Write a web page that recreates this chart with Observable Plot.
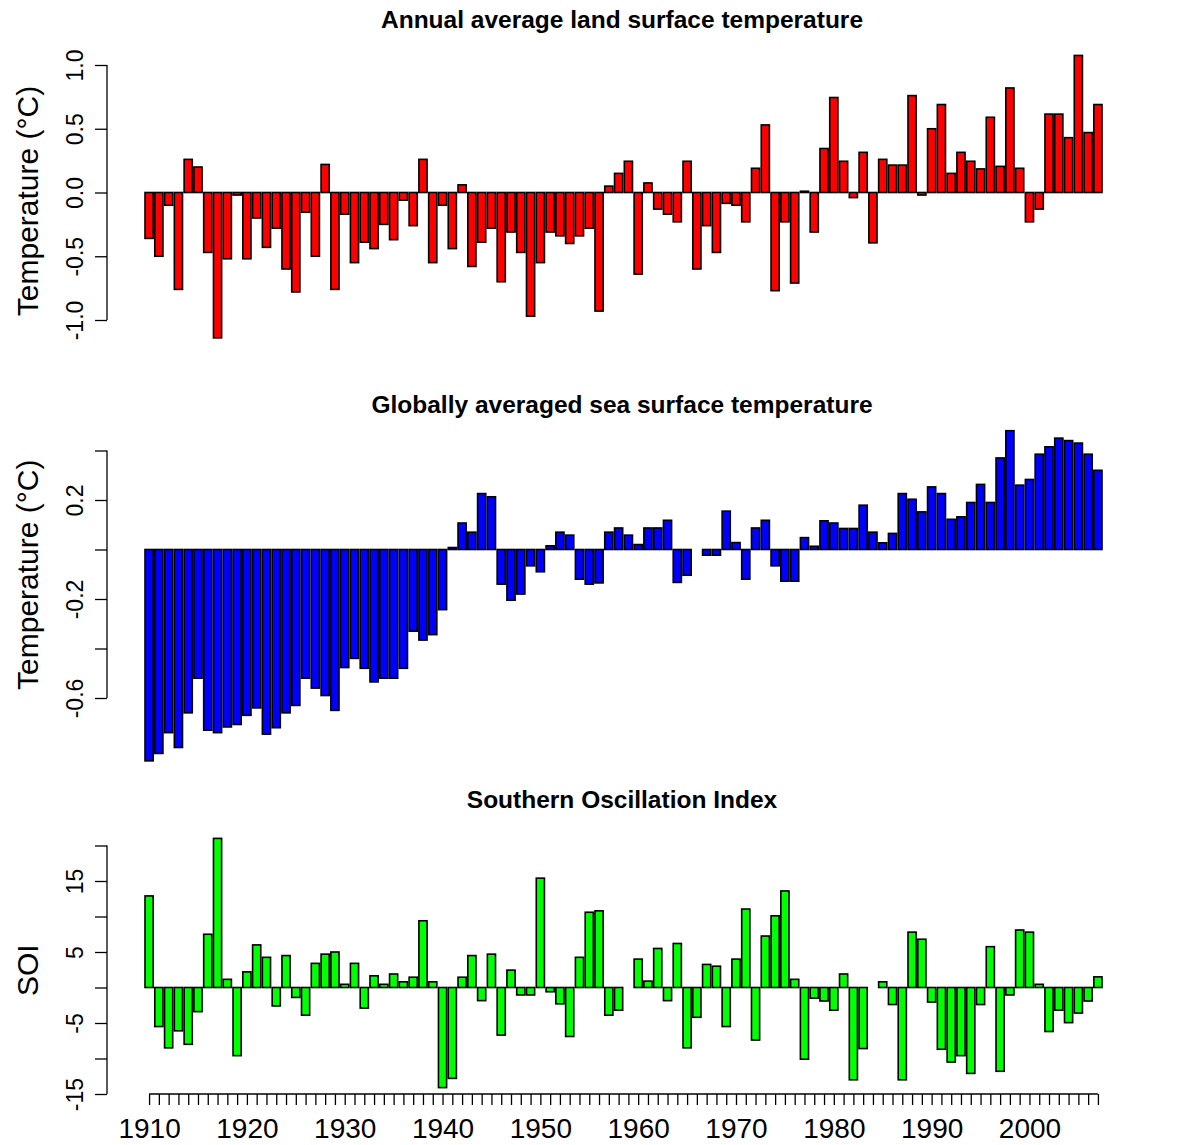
<!DOCTYPE html>
<html><head><meta charset="utf-8">
<script src="https://cdn.jsdelivr.net/npm/d3@7"></script>
<script src="https://cdn.jsdelivr.net/npm/@observablehq/plot@0.6"></script>
<style>
html,body{margin:0;padding:0;background:#fff;}
#chart{width:1183px;}
#chart svg{display:block;}
</style></head><body><div id="chart"></div>
<script>
const years = [1910,1911,1912,1913,1914,1915,1916,1917,1918,1919,
1920,1921,1922,1923,1924,1925,1926,1927,1928,1929,
1930,1931,1932,1933,1934,1935,1936,1937,1938,1939,
1940,1941,1942,1943,1944,1945,1946,1947,1948,1949,
1950,1951,1952,1953,1954,1955,1956,1957,1958,1959,
1960,1961,1962,1963,1964,1965,1966,1967,1968,1969,
1970,1971,1972,1973,1974,1975,1976,1977,1978,1979,
1980,1981,1982,1983,1984,1985,1986,1987,1988,1989,
1990,1991,1992,1993,1994,1995,1996,1997,1998,1999,
2000,2001,2002,2003,2004,2005,2006,2007];

const landTemp = [-0.36,-0.50,-0.10,-0.76,0.26,0.20,-0.47,-1.14,-0.52,-0.02,
-0.52,-0.20,-0.43,-0.28,-0.60,-0.78,-0.155,-0.50,0.22,-0.76,
-0.17,-0.55,-0.39,-0.44,-0.25,-0.37,-0.06,-0.26,0.26,-0.55,
-0.10,-0.44,0.06,-0.58,-0.39,-0.28,-0.70,-0.31,-0.47,-0.97,
-0.55,-0.31,-0.34,-0.40,-0.34,-0.28,-0.93,0.05,0.15,0.245,
-0.64,0.075,-0.13,-0.17,-0.23,0.245,-0.60,-0.26,-0.47,-0.085,
-0.10,-0.23,0.19,0.53,-0.77,-0.23,-0.71,0.01,-0.31,0.345,
0.745,0.245,-0.04,0.315,-0.395,0.26,0.215,0.215,0.76,-0.02,
0.50,0.69,0.15,0.315,0.245,0.185,0.59,0.205,0.82,0.19,
-0.23,-0.13,0.615,0.615,0.43,1.075,0.47,0.69];

const seaTemp = [-0.854,-0.824,-0.74,-0.80,-0.66,-0.52,-0.73,-0.74,-0.717,-0.707,
-0.67,-0.64,-0.746,-0.72,-0.66,-0.63,-0.52,-0.56,-0.59,-0.65,
-0.477,-0.44,-0.48,-0.535,-0.52,-0.52,-0.48,-0.33,-0.366,-0.344,
-0.243,0.008,0.107,0.07,0.226,0.213,-0.14,-0.205,-0.18,-0.066,
-0.09,0.015,0.07,0.058,-0.12,-0.14,-0.135,0.07,0.087,0.058,
0.02,0.087,0.087,0.118,-0.133,-0.104,0,-0.023,-0.023,0.155,
0.028,-0.12,0.087,0.118,-0.066,-0.128,-0.128,0.048,0.013,0.116,
0.107,0.085,0.085,0.179,0.07,0.027,0.065,0.226,0.203,0.152,
0.253,0.226,0.122,0.132,0.19,0.263,0.19,0.37,0.48,0.26,
0.283,0.385,0.415,0.45,0.44,0.43,0.385,0.32];

const soi = [12.9,-5.5,-8.5,-6.1,-8.0,-3.4,7.5,21.0,1.15,-9.6,
2.2,6.0,4.25,-2.6,4.5,-1.4,-3.9,3.4,4.7,5.0,
0.45,3.4,-2.9,1.65,0.45,1.9,0.8,1.45,9.4,0.8,
-14.1,-12.8,1.45,4.5,-1.85,4.7,-6.7,2.45,-1.05,-1.05,
15.4,-0.6,-2.3,-6.9,4.25,10.6,10.8,-3.9,-3.2,0,
4.0,0.9,5.5,-1.85,6.2,-8.5,-4.2,3.25,3.0,-5.5,
4.0,11.05,-7.4,7.25,10.1,13.6,1.15,-10.1,-1.5,-1.9,
-3.2,1.9,-13.0,-8.6,0,0.8,-2.4,-13.0,7.8,6.8,
-2.05,-8.7,-10.5,-9.6,-12.1,-2.4,5.75,-11.8,-1.05,8.1,
7.8,0.45,-6.2,-3.2,-4.95,-3.6,-1.9,1.5];

const titles = ["Annual average land surface temperature",
                "Globally averaged sea surface temperature",
                "Southern Oscillation Index"];
const yTitles = ["Temperature (\u00B0C)", "Temperature (\u00B0C)", "SOI"];

const landTicks = [-1.0,-0.5,0.0,0.5,1.0];
const landTickLabels = [-1.0,-0.5,0.0,0.5,1.0];
const seaTicks = [-0.6,-0.4,-0.2,0.0,0.2,0.4];
const seaTickLabels = [-0.6,-0.2,0.2];
const soiTicks = [-15,-10,-5,0,5,10,15,20];
const soiTickLabels = [-15,-5,5,15];
const xTickLabels = [1910,1920,1930,1940,1950,1960,1970,1980,1990,2000];

const W = 1183, ML = 107, MR = 81, BAR_LEFT = 145, BAR_RIGHT = 1102;
const FONT = "'Liberation Sans', Arial, Helvetica, sans-serif";
const root = document.getElementById("chart");

function panel(o) {
  const data = years.map((year, i) => ({year, value: o.values[i]}));
  const marks = [
    Plot.barY(data, {x: "year", y: "value", fill: o.color, stroke: "black", strokeWidth: 1.6}),
    Plot.axisY({ticks: o.ticks, tickSize: 12, tickPadding: 13, tickRotate: -90, fontSize: 23,
      strokeWidth: 1.3, label: null,
      tickFormat: d => o.labels.includes(d) ? o.fmt(d) : ""}),
    Plot.text([o.title], {frameAnchor: "top", dy: o.titleDy, dx: 17, text: d => d,
      lineAnchor: "middle", textAnchor: "middle", fontSize: 24.5, fontWeight: "bold"}),
    Plot.text([o.yTitle], {frameAnchor: "left", dx: -79, dy: o.yTitleDy, rotate: -90,
      textAnchor: "middle", lineAnchor: "middle", text: d => d, fontSize: 30})
  ];
  if (o.showX) {
    marks.push(Plot.axisX({ticks: years, tickSize: 11, tickPadding: 13, fontSize: 28,
      strokeWidth: 1.3, label: null,
      tickFormat: d => xTickLabels.includes(d) ? String(d) : ""}));
  }
  const chart = Plot.plot({
    width: W, height: o.height,
    marginLeft: ML, marginRight: MR, marginTop: o.mt, marginBottom: o.mb,
    x: {type: "band", domain: years, range: [BAR_LEFT, BAR_RIGHT],
        paddingInner: 0.1667, paddingOuter: 0, ...(o.showX ? {} : {axis: null})},
    y: {domain: [o.ticks[0], o.ticks[o.ticks.length - 1]]},
    style: {fontFamily: FONT, background: "white", overflow: "visible", color: "black"},
    marks
  });
  const svg = d3.select(chart);
  const ys = chart.scale("y");
  svg.append("line")
    .attr("x1", ML).attr("x2", ML)
    .attr("y1", ys.apply(o.ticks[0])).attr("y2", ys.apply(o.ticks[o.ticks.length - 1]))
    .attr("stroke", "black").attr("stroke-width", 1.3);
  if (o.showX) {
    const xs = chart.scale("x");
    const half = xs.bandwidth / 2;
    const yb = ys.apply(o.ticks[0]);
    svg.append("line")
      .attr("x1", xs.apply(years[0]) + half).attr("x2", xs.apply(years[years.length - 1]) + half)
      .attr("y1", yb).attr("y2", yb)
      .attr("stroke", "black").attr("stroke-width", 1.3);
  }
  root.appendChild(chart);
}

panel({values: landTemp, color: "#ff0000", title: titles[0], yTitle: yTitles[0],
  ticks: landTicks, labels: landTickLabels, fmt: d => d.toFixed(1),
  height: 380, mt: 65, mb: 60, titleDy: -45, yTitleDy: 8, showX: false});
panel({values: seaTemp, color: "#0000ff", title: titles[1], yTitle: yTitles[1],
  ticks: seaTicks, labels: seaTickLabels, fmt: d => d.toFixed(1),
  height: 395, mt: 70.5, mb: 77, titleDy: -45.5, yTitleDy: 0, showX: false});
panel({values: soi, color: "#00ff00", title: titles[2], yTitle: yTitles[2],
  ticks: soiTicks, labels: soiTickLabels, fmt: d => String(d),
  height: 370, mt: 70.5, mb: 51, titleDy: -45.5, yTitleDy: 0, showX: true});
</script>
</body></html>
